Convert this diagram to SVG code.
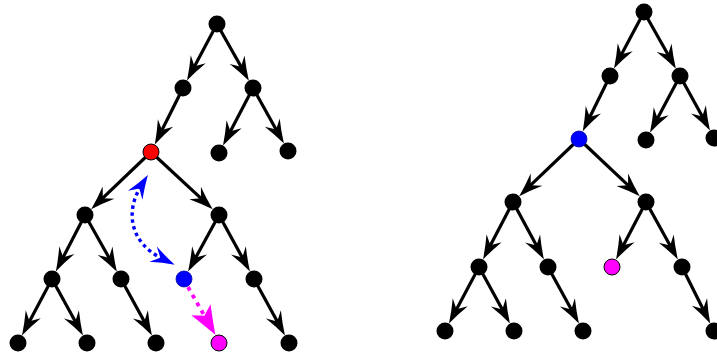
<svg xmlns="http://www.w3.org/2000/svg" width="717" height="354" viewBox="0 0 717 354">
  <style>
    .edge { stroke: #000; stroke-width: 3.2; fill: none; marker-end: url(#head); }
    .node { fill: #000; }
    .red { fill: #ff0000; stroke: #000; stroke-width: 1; }
    .blue { fill: #0000ff; stroke: #0000a0; stroke-width: 0.8; }
    .magenta { fill: #ff00ff; stroke: #000; stroke-width: 1; }
    .swap { stroke: #0000ff; stroke-width: 3.4; fill: none; stroke-dasharray: 3.5 3.5;
            marker-start: url(#headBlue); marker-end: url(#headBlue); }
    .move { stroke: #ff00ff; stroke-width: 3.8; fill: none; stroke-dasharray: 4 5;
            marker-end: url(#headMagenta); }
  </style>
  <defs>
    <!-- barbed arrowheads; origin sits on the shaft end, tip lies ahead of it -->
    <marker id="head" markerUnits="userSpaceOnUse" viewBox="-12 -10 27 20" markerWidth="27" markerHeight="20" refX="0" refY="0" orient="auto" overflow="visible">
      <path d="M13,0 Q1,-3.5 -11,-8.5 L-3,0 L-11,8.5 Q1,3.5 13,0 Z" fill="#000"/>
    </marker>
    <marker id="headBlue" markerUnits="userSpaceOnUse" viewBox="-12 -10 27 20" markerWidth="27" markerHeight="20" refX="0" refY="0" orient="auto-start-reverse" overflow="visible">
      <path d="M13,0 Q1,-3.5 -11,-8.5 L-3,0 L-11,8.5 Q1,3.5 13,0 Z" fill="#0000ff"/>
    </marker>
    <marker id="headMagenta" markerUnits="userSpaceOnUse" viewBox="-12 -12 34 24" markerWidth="34" markerHeight="24" refX="0" refY="0" orient="auto" overflow="visible">
      <path d="M20,0 Q6,-5 -9,-11 L-2,0 L-9,11 Q6,5 20,0 Z" fill="#ff00ff"/>
    </marker>
  </defs>

  <g id="connectors">
    <!-- left tree -->
    <line class="edge" x1="217" y1="24" x2="193.1" y2="69.0"/>
    <line class="edge" x1="217" y1="24" x2="242.5" y2="69.3"/>
    <line class="edge" x1="183" y1="88" x2="160.6" y2="132.8"/>
    <line class="edge" x1="253" y1="88" x2="229.0" y2="134.0"/>
    <line class="edge" x1="253" y1="88" x2="277.6" y2="132.2"/>
    <line class="edge" x1="151" y1="152" x2="100.6" y2="200.2"/>
    <line class="edge" x1="151" y1="152" x2="203.2" y2="200.4"/>
    <line class="edge" x1="85" y1="215" x2="61.8" y2="259.9"/>
    <line class="edge" x1="85" y1="215" x2="110.5" y2="260.3"/>
    <line class="edge" x1="219" y1="215" x2="194.3" y2="260.1"/>
    <line class="edge" x1="219" y1="215" x2="243.7" y2="260.1"/>
    <line class="edge" x1="52" y1="279" x2="28.1" y2="324.0"/>
    <line class="edge" x1="52" y1="279" x2="76.7" y2="324.1"/>
    <line class="edge" x1="121" y1="279" x2="145.7" y2="324.1"/>
    <line class="edge" x1="254" y1="279" x2="278.7" y2="324.1"/>
    <path class="swap" d="M141,186 C126,210 128,242 163,259"/>
    <line class="move" x1="188" y1="287" x2="205.4" y2="317.5"/>

    <!-- right tree -->
    <line class="edge" x1="644" y1="12" x2="620.1" y2="57.0"/>
    <line class="edge" x1="644" y1="12" x2="669.5" y2="57.3"/>
    <line class="edge" x1="610" y1="76" x2="588.5" y2="119.7"/>
    <line class="edge" x1="680" y1="76" x2="656.1" y2="121.0"/>
    <line class="edge" x1="680" y1="76" x2="703.7" y2="119.1"/>
    <line class="edge" x1="579" y1="139" x2="528.6" y2="187.2"/>
    <line class="edge" x1="579" y1="139" x2="630.3" y2="187.3"/>
    <line class="edge" x1="513" y1="202" x2="489.0" y2="248.0"/>
    <line class="edge" x1="513" y1="202" x2="537.8" y2="248.1"/>
    <line class="edge" x1="646" y1="202" x2="622.0" y2="248.0"/>
    <line class="edge" x1="646" y1="202" x2="671.6" y2="248.2"/>
    <line class="edge" x1="479" y1="267" x2="455.1" y2="312.0"/>
    <line class="edge" x1="479" y1="267" x2="503.7" y2="312.1"/>
    <line class="edge" x1="548" y1="267" x2="572.7" y2="312.1"/>
    <line class="edge" x1="682" y1="267" x2="704.4" y2="311.8"/>
  </g>

  <!-- left tree nodes -->
  <g id="a0"><circle class="node" cx="217" cy="24" r="8.5"/></g>
  <g id="a1"><circle class="node" cx="183" cy="88" r="8.5"/></g>
  <g id="a2"><circle class="node" cx="253" cy="88" r="8.5"/></g>
  <g id="a3"><circle class="red" cx="151" cy="152" r="8"/></g>
  <g id="a4"><circle class="node" cx="219" cy="153" r="8.5"/></g>
  <g id="a5"><circle class="node" cx="288" cy="151" r="8.5"/></g>
  <g id="a6"><circle class="node" cx="85" cy="215" r="8.5"/></g>
  <g id="a7"><circle class="node" cx="219" cy="215" r="8.5"/></g>
  <g id="a8"><circle class="node" cx="52" cy="279" r="8.5"/></g>
  <g id="a9"><circle class="node" cx="121" cy="279" r="8.5"/></g>
  <g id="a10"><circle class="blue" cx="184" cy="279" r="8"/></g>
  <g id="a11"><circle class="node" cx="254" cy="279" r="8.5"/></g>
  <g id="a12"><circle class="node" cx="18" cy="343" r="8.5"/></g>
  <g id="a13"><circle class="node" cx="87" cy="343" r="8.5"/></g>
  <g id="a14"><circle class="node" cx="156" cy="343" r="8.5"/></g>
  <g id="a15"><circle class="magenta" cx="219" cy="343" r="8"/></g>
  <g id="a16"><circle class="node" cx="289" cy="343" r="8.5"/></g>

  <!-- right tree nodes -->
  <g id="b0"><circle class="node" cx="644" cy="12" r="8.5"/></g>
  <g id="b1"><circle class="node" cx="610" cy="76" r="8.5"/></g>
  <g id="b2"><circle class="node" cx="680" cy="76" r="8.5"/></g>
  <g id="b3"><circle class="blue" cx="579" cy="139" r="8"/></g>
  <g id="b4"><circle class="node" cx="646" cy="140" r="8.5"/></g>
  <g id="b5"><circle class="node" cx="714" cy="138" r="8.5"/></g>
  <g id="b6"><circle class="node" cx="513" cy="202" r="8.5"/></g>
  <g id="b7"><circle class="node" cx="646" cy="202" r="8.5"/></g>
  <g id="b8"><circle class="node" cx="479" cy="267" r="8.5"/></g>
  <g id="b9"><circle class="node" cx="548" cy="267" r="8.5"/></g>
  <g id="b10"><circle class="magenta" cx="612" cy="267" r="8"/></g>
  <g id="b11"><circle class="node" cx="682" cy="267" r="8.5"/></g>
  <g id="b12"><circle class="node" cx="445" cy="331" r="8.5"/></g>
  <g id="b13"><circle class="node" cx="514" cy="331" r="8.5"/></g>
  <g id="b14"><circle class="node" cx="583" cy="331" r="8.5"/></g>
  <g id="b15"><circle class="node" cx="714" cy="331" r="8.5"/></g>
</svg>
